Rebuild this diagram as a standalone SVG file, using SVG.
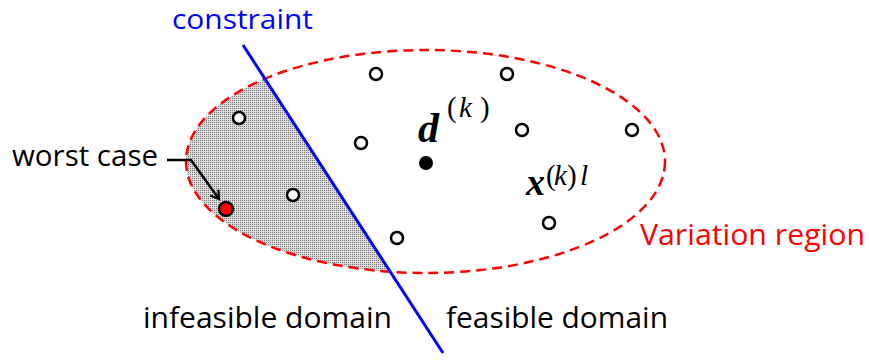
<svg xmlns="http://www.w3.org/2000/svg" width="869" height="360" viewBox="0 0 869 360">
<style>
.lbl{font-family:"Open Sans","Liberation Sans",sans-serif;font-size:30px;fill:#000}
.open{fill:#fff;stroke:#000;stroke-width:2.5}
.math{font-family:"Liberation Serif","DejaVu Serif",serif;fill:#000}
.sup{font-family:"Liberation Serif","DejaVu Serif",serif;font-size:29px;fill:#000}
.it{font-style:italic}
</style>
<defs>
<pattern id="stip" width="2" height="2" patternUnits="userSpaceOnUse">
<rect width="2" height="2" fill="#dcdcdc"/>
<rect width="1" height="1" fill="#777"/>
</pattern>
<clipPath id="ell"><ellipse cx="425.5" cy="161.5" rx="239.5" ry="111.5"/></clipPath>
<marker id="arr" markerWidth="12" markerHeight="12" refX="9" refY="6" orient="auto" markerUnits="userSpaceOnUse">
<path d="M1,1 L9,6 L1,11" fill="none" stroke="#000" stroke-width="2.2"/>
</marker>
</defs>
<rect width="869" height="360" fill="#fff"/>
<g id="infeasible-region">
<polygon points="0,0 213.8,0 447.5,360 0,360" fill="url(#stip)" clip-path="url(#ell)"/>
</g>
<g id="variation-region">
<ellipse cx="425.5" cy="161.5" rx="239.5" ry="111.5" fill="none" stroke="#ff0000" stroke-width="2.5" stroke-dasharray="10,6"/>
</g>
<g id="constraint-line">
<line x1="243" y1="45" x2="443" y2="353" stroke="#0000ff" stroke-width="3"/>
</g>
<g id="connectors">
<polyline points="167,160 191,160 219,199" fill="none" stroke="#000" stroke-width="2.5" marker-end="url(#arr)"/>
</g>
<g id="samples">
<circle class="open" cx="376" cy="74" r="6"/>
<circle class="open" cx="507" cy="74" r="6"/>
<circle class="open" cx="239" cy="118" r="6"/>
<circle class="open" cx="361" cy="143" r="6"/>
<circle class="open" cx="522" cy="130" r="6"/>
<circle class="open" cx="632" cy="130" r="6"/>
<circle class="open" cx="549" cy="223" r="6"/>
<circle class="open" cx="293" cy="195" r="6"/>
<circle class="open" cx="397" cy="238" r="6"/>
</g>
<g id="design-point">
<circle cx="426" cy="163" r="7" fill="#000"/>
</g>
<g id="worst-point">
<circle cx="226" cy="209" r="7" fill="#ff0000" stroke="#000" stroke-width="2.5"/>
</g>
<g id="labels">
<text class="lbl" x="172" y="29" style="fill:#0000ff;font-size:28px" textLength="141" lengthAdjust="spacingAndGlyphs">constraint</text>
<text class="lbl" x="12" y="166" textLength="146" lengthAdjust="spacingAndGlyphs">worst case</text>
<text class="lbl" x="143" y="328" textLength="249" lengthAdjust="spacingAndGlyphs">infeasible domain</text>
<text class="lbl" x="446" y="328" textLength="222" lengthAdjust="spacingAndGlyphs">feasible domain</text>
<text class="lbl" x="640" y="245" style="fill:#ff0000" textLength="225" lengthAdjust="spacingAndGlyphs">Variation region</text>
<text class="math" x="418" y="142" font-size="42" font-weight="bold" font-style="italic">d</text>
<text class="sup" x="447" y="117">(</text>
<text class="sup it" x="459" y="117" font-size="32">k</text>
<text class="sup" x="480" y="117">)</text>
<text class="math" x="526" y="195" font-size="38" font-weight="bold" font-style="italic">x</text>
<text class="sup" x="546" y="185" font-size="27">(</text>
<text class="sup it" x="554" y="185" font-size="27">k</text>
<text class="sup" x="567" y="185" font-size="27">)</text>
<text class="sup it" x="580" y="185" font-size="30">l</text>
</g>
</svg>
